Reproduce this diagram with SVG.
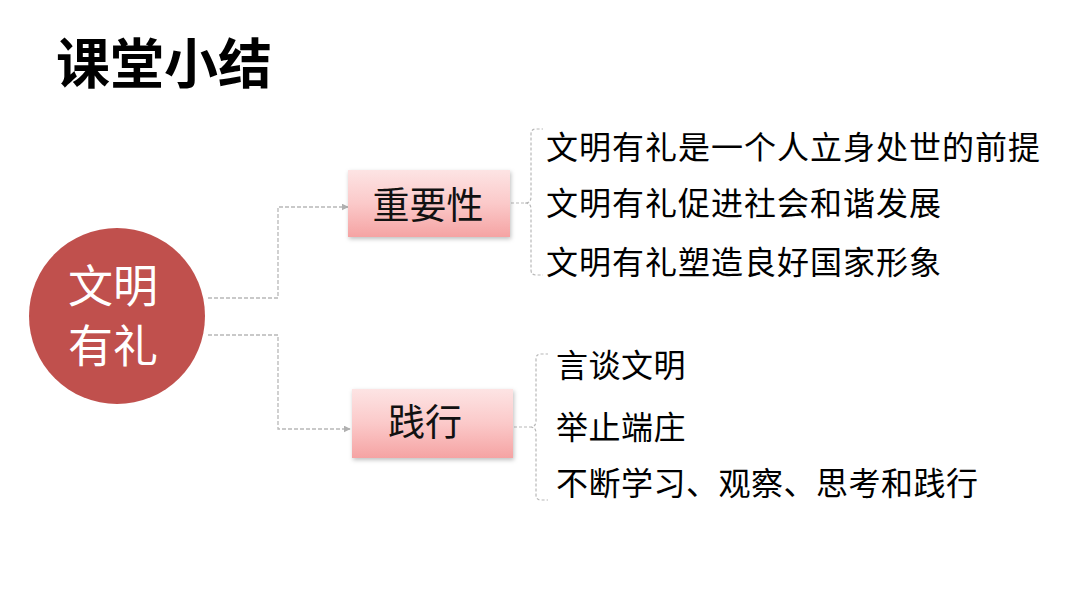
<svg xmlns="http://www.w3.org/2000/svg" width="1080" height="608" viewBox="0 0 1080 608">
<defs>
<linearGradient id="pink" x1="0" y1="0" x2="0" y2="1">
<stop offset="0" stop-color="#fde4e4"/>
<stop offset="0.5" stop-color="#fbc9c9"/>
<stop offset="1" stop-color="#f5a3a3"/>
</linearGradient>
<filter id="sh" x="-10%" y="-10%" width="125%" height="135%">
<feDropShadow dx="1" dy="2" stdDeviation="2" flood-color="#000" flood-opacity="0.25"/>
</filter>
<marker id="arr" viewBox="0 0 10 10" refX="9" refY="5" markerWidth="7" markerHeight="7" orient="auto" markerUnits="userSpaceOnUse">
<path d="M0,0 L10,5 L0,10 z" fill="#b0b0b0"/>
</marker>
<style>
.cn{font-family:"Noto Sans CJK SC","Noto Sans CJK TC",sans-serif;}
.item{font-size:32px;fill:#000;}
.top{letter-spacing:1px;}
.bot{letter-spacing:0.5px;}
.box{font-size:37px;fill:#111;text-anchor:middle;}
.conn{fill:none;stroke:#b8b8b8;stroke-width:1.3;stroke-dasharray:4,2;}
.brk{fill:none;stroke:#b8b8b8;stroke-width:1.2;stroke-dasharray:3,2;}
</style>
</defs>
<rect width="1080" height="608" fill="#fff"/>
<text id="title" class="cn" x="56" y="84" font-size="54" font-weight="700" fill="#000">课堂小结</text>
<g id="connectors">
<path class="conn" d="M208,298 H278 V207 H348" marker-end="url(#arr)"/>
<path class="conn" d="M208,335 H278 V429 H350" marker-end="url(#arr)"/>
<path class="brk" d="M511,203 H525 Q531,203 531,197 V134 Q531,129 536,129 H543 M525,203 Q531,203 531,209 V270 Q531,275 536,275 H543"/>
<path class="brk" d="M514,427 H530 Q536,427 536,421 V359 Q536,354 541,354 H548 M530,427 Q536,427 536,433 V495 Q536,500 541,500 H548"/>
</g>
<g id="root">
<circle cx="117" cy="316" r="88" fill="#c0504d"/>
<text class="cn" x="113" y="303" font-size="45" fill="#fff" text-anchor="middle">文明</text>
<text class="cn" x="113" y="363" font-size="45" fill="#fff" text-anchor="middle">有礼</text>
</g>
<g id="importance">
<rect x="348" y="170" width="162" height="67" fill="url(#pink)" filter="url(#sh)"/>
<text class="cn box" x="428" y="219">重要性</text>
</g>
<g id="practice">
<rect x="352" y="389" width="161" height="69" fill="url(#pink)" filter="url(#sh)"/>
<text class="cn box" x="425" y="436">践行</text>
</g>
<g id="importance-items">
<text class="cn item top" x="546" y="159">文明有礼是一个人立身处世的前提</text>
<text class="cn item top" x="546" y="215">文明有礼促进社会和谐发展</text>
<text class="cn item top" x="546" y="274">文明有礼塑造良好国家形象</text>
</g>
<g id="practice-items">
<text class="cn item bot" x="556" y="377">言谈文明</text>
<text class="cn item bot" x="556" y="439">举止端庄</text>
<text class="cn item bot" x="556" y="495">不断学习、观察、思考和践行</text>
</g>
</svg>
